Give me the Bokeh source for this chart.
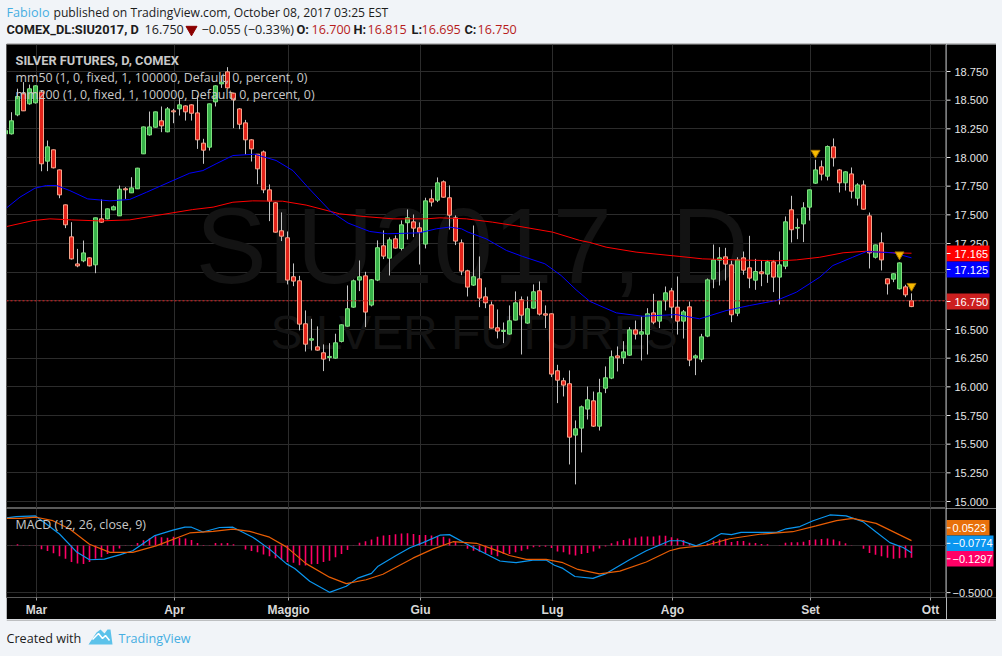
from bokeh.plotting import figure
from bokeh.layouts import column, row
from bokeh.core.properties import value
from bokeh.models import Range1d, FixedTicker, Label, Span, LinearAxis
from bokeh.embed import file_html
from bokeh.resources import INLINE

# ---- data -------------------------------------------------------------
open_ = [18.206,18.206,18.372,18.555,18.468,18.477,18.57,17.968,18.067,17.892,17.587,17.308,17.072,17.099,17.125,17.064,17.465,17.465,17.543,17.491,17.727,17.692,17.727,18.032,18.197,18.264,18.32,18.224,18.407,18.424,18.45,18.459,18.389,18.125,18.09,18.485,18.642,18.747,18.561,18.424,18.302,18.154,18.029,18.049,
17.718,17.605,17.361,17.3,16.96,16.925,16.55,16.407,16.349,16.297,16.256,16.25,16.396,16.529,16.695,16.931,16.968,16.713,16.931,17.23,17.122,17.291,17.207,17.431,17.439,17.387,17.245,17.64,17.628,17.788,17.649,17.474,17.256,17.012,16.887,16.942,16.785,16.715,16.515,16.483,16.46,16.582,16.759,16.556,16.686,16.838,16.637,16.637,16.14,16.053,16.027,15.579,15.64,15.806,
15.878,15.657,15.988,16.076,16.27,16.253,16.276,16.497,16.459,16.459,16.645,16.573,16.75,16.837,16.695,16.573,16.698,16.253,16.241,16.442,16.939,17.105,17.134,17.064,16.642,17.125,17.038,16.93,17.003,16.983,17.09,16.957,17.052,17.544,17.384,17.421,17.567,17.776,17.919,17.837,18.093,17.892,17.779,17.857,17.645,17.761,17.491,17.13,17.256,16.942,16.939,16.855,16.872,16.75]
high = [18.24,18.395,18.60,18.657,18.636,18.63,18.585,18.148,18.07,17.895,17.59,17.436,17.203,17.276,17.13,17.475,17.634,17.555,17.581,17.756,17.741,17.828,17.91,18.27,18.401,18.40,18.445,18.44,18.424,18.517,18.455,18.465,18.541,18.163,18.47,18.63,18.715,18.788,18.565,18.43,18.328,18.16,18.03,18.061,
17.765,17.61,17.521,17.355,17.076,16.968,16.666,16.593,16.527,16.37,16.381,16.463,16.545,16.884,16.936,17.102,17.003,16.94,17.277,17.364,17.303,17.32,17.451,17.547,17.503,17.434,17.649,17.721,17.826,17.8,17.756,17.495,17.285,17.021,17.407,17.137,16.867,16.745,16.675,16.561,16.71,16.832,16.788,16.788,16.893,16.919,16.71,16.64,16.192,16.079,16.143,15.707,15.837,16.003,
15.959,16.07,16.178,16.317,16.352,16.398,16.52,16.578,16.613,16.686,16.811,16.75,16.875,16.863,16.962,16.67,16.744,16.282,16.462,16.945,17.241,17.218,17.212,17.10,17.13,17.18,17.317,17.116,17.102,17.107,17.107,17.18,17.486,17.666,17.468,17.61,17.72,17.98,17.974,18.105,18.166,17.90,17.88,17.913,17.776,17.80,17.52,17.24,17.346,16.945,16.99,17.085,16.89,16.815]
low = [18.20,18.20,18.36,18.405,18.46,18.47,17.88,17.881,17.905,17.645,17.384,17.11,17.043,17.087,17.05,16.991,17.43,17.46,17.54,17.49,17.639,17.69,17.725,18.03,18.19,18.26,18.221,18.22,18.299,18.366,18.322,18.322,18.075,17.945,18.061,18.445,18.607,18.60,18.256,18.247,18.026,17.965,17.767,17.689,
17.445,17.345,17.271,16.893,16.878,16.492,16.308,16.317,16.315,16.137,16.224,16.245,16.387,16.525,16.69,16.835,16.521,16.701,16.922,17.114,16.971,17.205,17.189,17.285,17.306,17.067,17.207,17.573,17.611,17.65,17.372,17.236,16.974,16.788,16.88,16.695,16.686,16.51,16.422,16.381,16.455,16.58,16.282,16.55,16.68,16.622,16.512,16.085,15.858,15.916,15.323,15.149,15.428,15.715,
15.65,15.619,15.945,16.067,16.134,16.20,16.27,16.413,16.23,16.282,16.546,16.512,16.666,16.599,16.456,16.421,16.18,16.102,16.215,16.433,16.86,16.884,16.927,16.564,16.616,16.977,16.86,16.846,16.878,16.907,16.826,16.718,17.026,17.259,17.288,17.262,17.45,17.77,17.80,17.80,17.921,17.695,17.712,17.643,17.581,17.545,17.032,17.119,17.015,16.805,16.913,16.849,16.782,16.695]
close = [18.235,18.32,18.532,18.407,18.599,18.625,17.945,18.093,17.91,17.674,17.413,17.116,17.055,17.168,17.055,17.474,17.436,17.552,17.57,17.724,17.718,17.735,17.907,18.267,18.267,18.398,18.276,18.424,18.398,18.459,18.398,18.386,18.154,18.064,18.468,18.625,18.657,18.607,18.503,18.29,18.154,18.075,17.901,17.718,
17.62,17.349,17.314,16.931,16.922,16.547,16.372,16.419,16.32,16.242,16.265,16.384,16.541,16.681,16.925,16.96,16.652,16.934,17.213,17.14,17.282,17.21,17.413,17.474,17.384,17.349,17.622,17.611,17.779,17.654,17.497,17.271,17.009,16.87,16.96,16.774,16.733,16.512,16.486,16.492,16.576,16.733,16.625,16.681,16.829,16.634,16.625,16.111,16.058,16.015,15.561,15.634,15.826,15.887,
15.657,15.948,16.079,16.262,16.253,16.305,16.497,16.459,16.48,16.637,16.564,16.747,16.82,16.695,16.573,16.654,16.233,16.27,16.436,16.933,17.107,17.125,17.07,16.628,17.107,17.017,16.948,17.006,16.986,17.09,16.957,17.064,17.439,17.37,17.39,17.561,17.718,17.892,17.855,18.096,17.997,17.779,17.875,17.706,17.761,17.549,17.168,17.238,17.107,16.898,16.986,17.081,16.802,16.70]

ma50_x = [0.2,2.4,4.9,6.8,8.5,10.7,13.7,17.4,20.7,23.5,27.9,30.7,32.9,35.1,37.9,41.5,45.1,47.9,50.4,54.2,57.1,60.7,63.7,69.0,71.8,74.0,76.0,77.1,80.1,83.5,86.2,89.9,92.6,95.1,97.4,101.8,106.2,111.8,115.7,120.1,124.0,128.5,131.8,135.7,137.9,141.2,143.5,147.9,151.0]
ma50_y = [17.561,17.654,17.732,17.756,17.756,17.712,17.639,17.622,17.634,17.697,17.799,17.863,17.886,17.945,18.017,18.029,17.974,17.886,17.74,17.53,17.428,17.355,17.335,17.343,17.378,17.393,17.378,17.349,17.291,17.189,17.137,17.073,16.971,16.846,16.745,16.645,16.616,16.63,16.593,16.665,16.709,16.753,16.825,16.956,17.058,17.13,17.18,17.169,17.125]
ma200_x = [0.2,4.6,7.4,11.0,15.7,20.7,25.1,31.2,34.6,37.9,41.2,46.2,50.1,55.7,59.6,64.6,70.1,72.4,76.8,81.2,85.1,91.2,95.7,97.4,100.1,105.1,112.4,116.2,121.8,129.0,131.8,135.7,139.6,143.5,147.9,151.0]
ma200_y = [17.398,17.45,17.465,17.456,17.447,17.456,17.494,17.546,17.567,17.61,17.622,17.619,17.585,17.509,17.486,17.465,17.465,17.474,17.465,17.436,17.404,17.349,17.277,17.259,17.218,17.175,17.137,17.116,17.107,17.099,17.107,17.13,17.169,17.183,17.169,17.165]

macd_x = [0.2,1.8,5.0,6.8,9.0,11.8,14.0,16.5,19.0,21.2,24.9,27.9,29.9,31.0,32.9,35.7,37.9,41.2,44.0,46.8,48.2,50.7,54.0,56.8,58.7,61.0,62.1,65.1,67.4,69.6,72.4,74.0,77.4,82.4,85.1,87.9,90.1,91.5,92.9,94.9,97.9,100.1,104.0,106.8,110.7,112.6,115.1,117.1,119.3,121.0,122.6,128.5,130.1,132.4,134.6,137.4,140.1,142.9,145.1,147.4,149.6,151.0]
macd_y = [0.295,0.308,0.315,0.23,0.123,-0.065,-0.151,-0.144,-0.099,-0.055,0.106,0.164,0.195,0.195,0.144,0.192,0.195,0.089,-0.038,-0.192,-0.243,-0.38,-0.497,-0.432,-0.346,-0.295,-0.219,-0.106,-0.024,0.031,0.11,0.116,-0.003,-0.164,-0.182,-0.154,-0.154,-0.209,-0.243,-0.329,-0.349,-0.298,-0.151,-0.055,0.051,0.051,-0.003,0.048,0.127,0.116,0.14,0.14,0.178,0.202,0.264,0.325,0.315,0.254,0.144,0.031,-0.021,-0.0774]
signal_x = [0.2,2.4,5.1,7.9,10.7,14.0,17.4,21.2,25.1,30.7,34.6,37.9,40.7,44.0,46.8,50.1,54.0,56.8,60.1,62.9,67.9,71.2,74.6,78.5,82.4,84.0,86.8,90.1,92.9,95.4,99.0,102.4,106.8,110.7,112.4,116.8,120.7,125.7,131.2,135.1,138.5,141.2,145.1,151.0]
signal_y = [0.288,0.288,0.301,0.264,0.175,0.014,-0.072,-0.072,-0.003,0.134,0.151,0.175,0.151,0.089,-0.014,-0.192,-0.336,-0.404,-0.363,-0.305,-0.134,-0.038,0.041,0.024,-0.065,-0.106,-0.147,-0.147,-0.182,-0.254,-0.301,-0.271,-0.175,-0.055,-0.027,0.003,0.072,0.12,0.147,0.209,0.264,0.288,0.236,0.0523]
hist = [0,0.003,0.014,0.003,0.003,0.003,-0.038,-0.058,-0.082,-0.113,-0.14,-0.175,-0.192,-0.195,-0.175,-0.14,-0.123,-0.089,-0.065,-0.031,-0.003,0.007,0.027,0.055,0.075,0.099,0.089,0.082,0.093,0.079,0.075,0.058,0.027,0.007,0.003,0.027,0.024,0.027,0.014,0,-0.041,-0.058,-0.072,-0.096,-0.113,-0.134,-0.151,-0.175,-0.182,-0.209,-0.212,-0.199,-0.195,-0.175,-0.161,-0.123,-0.089,-0.048,-0.003,0.031,0.045,0.065,0.093,0.106,0.113,0.12,0.127,0.13,0.123,0.113,0.113,0.106,0.099,0.093,0.075,0.041,0.003,-0.034,-0.055,-0.065,-0.079,-0.099,-0.113,
-0.089,-0.089,-0.072,-0.055,-0.038,-0.017,-0.014,-0.014,-0.027,-0.062,-0.072,-0.096,-0.106,-0.089,-0.079,-0.062,-0.031,-0.01,0.024,0.045,0.058,0.075,0.086,0.096,0.096,0.096,0.106,0.103,0.089,0.075,0.058,0.024,0,0,0.021,0.051,0.065,0.072,0.038,0.048,0.048,0.031,0.027,0.017,0.014,0,0.003,0.031,0.034,0.034,0.041,0.058,0.065,0.069,0.075,0.065,0.045,0.024,0.003,0,-0.034,-0.079,-0.099,-0.113,-0.13,-0.14,-0.134,-0.13,-0.1297]

signal_marks_x = [135, 149, 151]
signal_marks_y = [18.04, 17.154, 16.879]

month_idx = [5, 28, 47, 69, 91, 111, 134, 154]
month_lbl = ["Mar", "Apr", "Maggio", "Giu", "Lug", "Ago", "Set", "Ott"]
price_ticks = [15.0,15.25,15.5,15.75,16.0,16.25,16.5,16.75,17.0,17.25,17.5,17.75,18.0,18.25,18.5,18.75]
price_labels = ["%.3f" % t for t in price_ticks]
macd_ticks = [-0.5]
macd_labels = ["\u22120.5000"]
last_values = ["17.165", "17.125", "16.750"]
macd_values = ["0.0523", "\u22120.0774", "\u22120.1297"]

# ---- layout constants ---------------------------------------------------
BG = "#f1f4f8"
GRID = "#2c2c2c"
FRAME = "#5a5a5a"
AX = "#e6e6e6"
UI = "Open Sans"
UI_BOLD = "Roboto"
AR = "Liberation Sans"
LEFT = 6
FRAME_W = 940
SIDE_W = 50
W = FRAME_W + SIDE_W
S0 = 1 / 6                      # so bar i sits on the pixel at page x 5 + 6 i
x_range = Range1d(S0, S0 + FRAME_W / 6)
month_ticks = [m + 1 / 6 for m in month_idx]
month_over = {t: l for t, l in zip(month_ticks, month_lbl)}

def page_x(px):
    return S0 + (px - LEFT) / 6

def price_at(py):
    return 18.75 - (py - 71) / 114.667

def macd_at(py):
    return (546.3 - py) / 97.3

def base_fig(height, yr):
    f = figure(width=FRAME_W, height=height, x_range=x_range, y_range=yr, toolbar_location=None,
               output_backend="svg", min_border_left=0, min_border_top=0, min_border_bottom=0, min_border_right=0)
    f.background_fill_color = "black"
    f.border_fill_color = "black"
    f.outline_line_color = FRAME
    f.xaxis.visible = False
    f.yaxis.visible = False
    f.xgrid.ticker = FixedTicker(ticks=month_ticks)
    f.xgrid.grid_line_color = GRID
    f.ygrid.grid_line_color = GRID
    return f

def side_fig(height, yr, bottom=0):
    f = figure(width=SIDE_W, height=height, x_range=Range1d(946, 996), y_range=yr, toolbar_location=None,
               output_backend="svg", min_border_left=0, min_border_top=0, min_border_bottom=bottom, min_border_right=0,
               x_axis_type=None, y_axis_type=None)
    f.background_fill_color = "black"
    f.border_fill_color = "black"
    f.outline_line_color = None
    f.grid.visible = False
    return f

def side_ticks(f, ticks, labels, tx=954):
    f.segment([946] * len(ticks), ticks, [950] * len(ticks), ticks, line_color=AX, line_width=1)
    f.text([tx] * len(ticks), ticks, text=labels, text_color=AX, text_font=value(AR), text_font_size="11px",
           text_baseline="middle", text_align="left")

def pills(f, tops, bottoms, mids, rights, labels, cols, tx):
    f.quad(left=[946] * len(tops), right=rights, top=tops, bottom=bottoms, fill_color=cols, line_color=None)
    f.segment([946] * len(mids), mids, [950] * len(mids), mids, line_color="white", line_width=1)
    f.text(tx, mids, text=labels, text_color="white", text_font=value(AR), text_font_size="11px",
           text_baseline="middle", text_align="left")

# ---- header -------------------------------------------------------------
def page_fig(height):
    f = figure(width=W, height=height, x_range=Range1d(0, W), y_range=Range1d(height, 0), toolbar_location=None,
               output_backend="svg", min_border_left=0, min_border_top=0, min_border_bottom=0, min_border_right=0,
               x_axis_type=None, y_axis_type=None)
    f.background_fill_color = BG
    f.border_fill_color = BG
    f.outline_line_color = None
    f.grid.visible = False
    return f

def put(f, px, py, txt, col="#1c1c1c", bold=False, size="12.6px"):
    f.add_layout(Label(x=px - LEFT, y=py, text=txt, text_color=col, text_font=UI_BOLD if bold else UI,
                       text_font_size="12.8px" if bold else size,
                       text_font_style="bold" if bold else "normal", text_baseline="middle"))

head = page_fig(44)
put(head, 6, 11.5, "FabioIo", "#46aee2")
put(head, 53, 11.5, "published on TradingView.com, October 08, 2017 03:25 EST", size="12.15px")
put(head, 6, 29, "COMEX_DL:SIU2017, D", bold=True)
put(head, 144, 29, "16.750")
head.scatter([185], [29], marker="inverted_triangle", size=11, color="#8b0000")
put(head, 201, 29, "\u22120.055 (\u22120.33%)")
RED = "#b71c1c"
for px, a in [(296, "O:"), (353, "H:"), (411, "L:"), (464, "C:")]:
    put(head, px, 29, a, bold=True)
for px, t in [(311, "16.700"), (367, "16.815"), (421, "16.695"), (477, "16.750")]:
    put(head, px, 29, t, RED)
head.line([0, W], [43.5, 43.5], line_color="#8a8a8a", line_width=1)

# ---- price panel ----------------------------------------------------------
price_range = Range1d(price_at(508), price_at(44))
p = base_fig(464, price_range)
p.ygrid.ticker = FixedTicker(ticks=price_ticks)

for txt, py, px, size in [("SIU2017, D", 245, 195, "107px"), ("SILVER FUTURES", 332, 270, "48px")]:
    p.add_layout(Label(x=page_x(px), y=price_at(py), text=txt, text_color="#131313", text_font=AR,
                       text_font_size=size, text_baseline="middle", level="underlay"))

idx = list(range(len(close)))
up = [c >= o for o, c in zip(open_, close)]
wick = "#c4c4c4"
p.segment(idx, low, idx, high, line_color=wick, line_width=1)
u = [i for i in idx if up[i]]
d = [i for i in idx if not up[i]]
p.vbar(u, top=[close[i] for i in u], bottom=[open_[i] for i in u], width=4/6,
       fill_color="#38b24a", line_color="#7fe07f", line_width=1)
p.vbar(d, top=[open_[i] for i in d], bottom=[close[i] for i in d], width=4/6,
       fill_color="#e2231a", line_color="#f6a58c", line_width=1)
p.line(ma200_x, ma200_y, line_color="#ff0000", line_width=1)
p.line(ma50_x, ma50_y, line_color="#0000ff", line_width=1)
p.scatter(signal_marks_x, signal_marks_y, marker="inverted_triangle", size=9, fill_color="#f7bb00", line_color="#a87400")
p.add_layout(Span(location=16.75, dimension="width", line_color="#e02020", line_dash="2 2", line_width=1))

for t, py, st, font, size in [("SILVER FUTURES, D, COMEX", 60, "bold", UI_BOLD, "12.8px"),
                              ("mm50 (1, 0, fixed, 1, 100000, Default, 0, percent, 0)", 77, "normal", UI, "12.4px"),
                              ("mm200 (1, 0, fixed, 1, 100000, Default, 0, percent, 0)", 94, "normal", UI, "12.4px")]:
    p.add_layout(Label(x=page_x(15), y=price_at(py), text=t, text_color="#c8c8c8", text_font=font,
                       text_font_size=size, text_font_style=st, text_baseline="middle"))

p_side = side_fig(464, price_range)
side_ticks(p_side, price_ticks, price_labels)
pills(p_side, [price_at(245), price_at(261), price_at(293)], [price_at(261), price_at(277), price_at(309)],
      [price_at(253), price_at(269), price_at(301)], [989, 989, 989], last_values,
      ["#ff0000", "#0000ff", "#cc1f1f"], [954, 954, 954])

# ---- MACD panel ----------------------------------------------------------
macd_range = Range1d(macd_at(600), macd_at(508))
m = base_fig(111, macd_range)
m.min_border_bottom = 19
m.ygrid.ticker = FixedTicker(ticks=[0, -0.5])

xa = LinearAxis(ticker=FixedTicker(ticks=month_ticks), major_label_overrides=month_over)
xa.axis_line_color = None
xa.major_tick_line_color = "#9a9a9a"
xa.major_tick_in = 0
xa.major_tick_out = 3
xa.minor_tick_line_color = None
xa.major_label_text_color = "#d8d8d8"
xa.major_label_text_font = AR
xa.major_label_text_font_style = "bold"
xa.major_label_text_font_size = "12px"
xa.major_label_standoff = 2
m.add_layout(xa, "below")

m.vbar(idx, top=[max(v, 0) for v in hist], bottom=[min(v, 0) for v in hist], width=1.6/6,
       fill_color="#ff0066", line_color=None)
m.line(macd_x, macd_y, line_color="#0a96f0", line_width=1.2)
m.line(signal_x, signal_y, line_color="#e85d04", line_width=1.2)
m.add_layout(Label(x=page_x(15), y=macd_at(525), text="MACD (12, 26, close, 9)", text_color="#c8c8c8",
                   text_font=UI, text_font_size="12.4px", text_baseline="middle"))

m_side = side_fig(111, macd_range, bottom=19)
side_ticks(m_side, macd_ticks, macd_labels, tx=952)
pills(m_side, [macd_at(520), macd_at(536), macd_at(552)], [macd_at(536), macd_at(552), macd_at(568)],
      [macd_at(528), macd_at(544), macd_at(560)], [989, 993, 993], macd_values,
      ["#e8700a", "#0a96f0", "#ff0066"], [952, 952, 952])

# ---- footer ---------------------------------------------------------------
foot = page_fig(36)
foot.line([0, W], [0.5, 0.5], line_color="#8a8a8a", line_width=1)
put(foot, 6, 19, "Created with")
foot.patch([82, 90, 94, 98, 101, 104, 106, 100, 84], [25, 13, 10, 14, 10, 10, 25, 25, 25], fill_color="#5cc2ea", line_color=None)
foot.line([86, 92, 96, 99, 103], [20, 14, 19, 16, 21], line_color="white", line_width=1.5)
put(foot, 118, 19, "TradingView", "#46aee2")

layout = column(head, row(p, p_side, spacing=0), row(m, m_side, spacing=0), foot, spacing=0, margin=(0, 0, 0, LEFT))
html = file_html(layout, INLINE, "SIU2017")
html = html.replace("</head>", "<style>html,body{background:%s}</style></head>" % BG, 1)
open("out.html", "w").write(html)
